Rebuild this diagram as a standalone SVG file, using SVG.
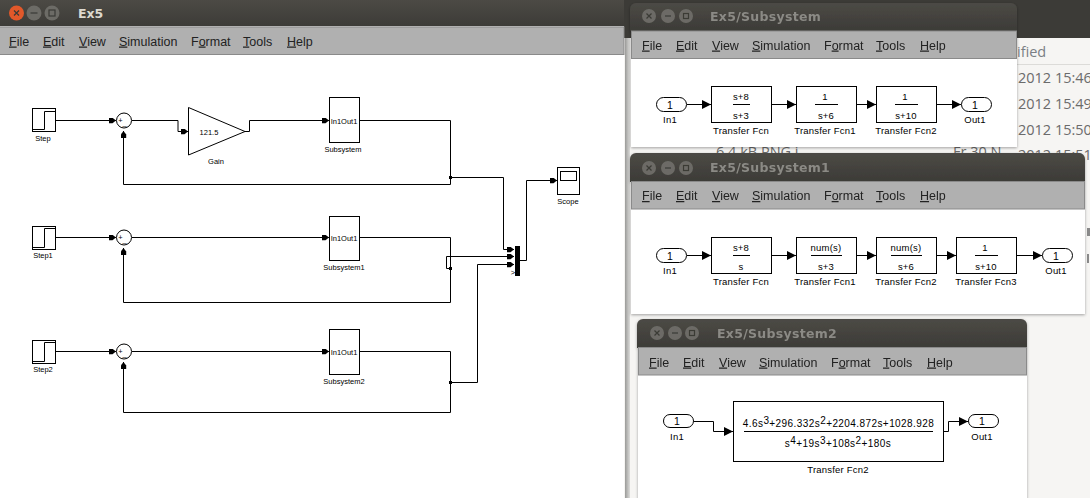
<svg xmlns="http://www.w3.org/2000/svg" width="1090" height="498" viewBox="0 0 1090 498">
<style>
text{font-family:"Liberation Sans",Arial,sans-serif;fill:#000}
.menu{font-size:12.5px;fill:#222}
.u{text-decoration:underline}
.t1{font-family:"DejaVu Sans",sans-serif;font-weight:700;font-size:12.5px;fill:#dcd8cf}
.t2{font-family:"DejaVu Sans",sans-serif;font-weight:700;font-size:12.5px;fill:#8b8a85;letter-spacing:.3px}
.bg{font-family:"Open Sans",sans-serif;font-size:14.5px;fill:#6b6b6b}
.lab{font-size:7.5px;text-anchor:middle}
.sl{font-size:9.5px;text-anchor:middle;letter-spacing:.2px}
.eq{font-size:10px;text-anchor:middle;letter-spacing:.42px}
.sup{font-size:10px}
.io{font-size:10.5px;text-anchor:middle}
.blk{fill:#fff;stroke:#000;stroke-width:1}
.wire{fill:none;stroke:#000;stroke-width:1}
.am{marker-end:url(#sa)}
.ab{marker-end:url(#la)}
.bar{stroke:#000;stroke-width:1}
.btn{fill:#6c6b66}
.tb{fill:url(#tg)}
.mb{fill:#b0b0b0;stroke:#8a8a8a}
.pn{fill:#fff}
.x{stroke:#3a3a36;stroke-width:1.2;fill:none}
</style>
<defs>
<linearGradient id="tg" x1="0" y1="0" x2="0" y2="1"><stop offset="0" stop-color="#4c4a45"/><stop offset="1" stop-color="#3c3b37"/></linearGradient>
<linearGradient id="side" x1="0" y1="0" x2="1" y2="0"><stop offset="0" stop-color="#9a9a98"/><stop offset="1" stop-color="#dcdcda"/></linearGradient>
<marker id="sa" markerUnits="userSpaceOnUse" markerWidth="8" markerHeight="7" refX="7" refY="3" orient="auto"><path d="M0 .3H3.5L7 3L3.5 5.7H0z" fill="#000"/></marker>
<marker id="la" markerUnits="userSpaceOnUse" markerWidth="10" markerHeight="10" refX="9" refY="4.5" orient="auto"><path d="M0 0L9 4.500L0 9z" fill="#000"/></marker>
<filter id="sh" x="-3%" y="-5%" width="106%" height="110%"><feDropShadow dx="0" dy="1" stdDeviation="1.500" flood-color="#000" flood-opacity=".35"/></filter>
</defs>

<g id="desktop">
<rect width="1090" height="498" fill="#f6f5f3"/>
<rect x="0" y="0" width="1090" height="38" fill="#3c3b37"/>
<rect x="625" y="38" width="5" height="460" fill="url(#side)"/>
<rect x="1017" y="64" width="73" height="1" fill="#dcdbd8"/>
<text class="bg" x="1017" y="57" style="fill:#7a7f85">ified</text>
<text class="bg" x="1018" y="83">2012 15:46</text>
<text class="bg" x="1018" y="109">2012 15:49</text>
<text class="bg" x="1018" y="135">2012 15:50</text>
<text class="bg" x="716" y="157">6.4 kB PNG i</text>
<text class="bg" x="953" y="157">Fr 30 N</text>
<text class="bg" x="1018" y="160">2012 15:51</text>
<rect x="1087" y="228" width="3" height="8" fill="#8a8a8a"/>
<rect x="1087" y="254" width="2" height="9" fill="#8a8a8a"/>
</g>

<g id="window-ex5">
<rect x="0" y="0" width="624" height="498" fill="#fff"/>
<rect class="tb" x="0" y="0" width="624" height="27"/>
<rect x="0" y="26" width="624" height="1" fill="#d8d8d8"/>
<rect class="mb" x="-1" y="27" width="625" height="27.500"/>
<circle cx="16.500" cy="13" r="7.500" fill="#e2582a"/>
<path class="x" d="M14 10.500l5 5m0-5l-5 5"/>
<circle class="btn" cx="34" cy="13" r="7.500"/>
<path class="x" d="M30.500 13h7"/>
<circle class="btn" cx="52" cy="13" r="7.500"/>
<rect class="x" x="49" y="10" width="6" height="6"/>
<text class="t1" x="78" y="18">Ex5</text>
<text class="menu" x="9" y="45.500"><tspan class="u">F</tspan>ile</text>
<text class="menu" x="43" y="45.500"><tspan class="u">E</tspan>dit</text>
<text class="menu" x="79" y="45.500"><tspan class="u">V</tspan>iew</text>
<text class="menu" x="119" y="45.500"><tspan class="u">S</tspan>imulation</text>
<text class="menu" x="191" y="45.500">F<tspan class="u">o</tspan>rmat</text>
<text class="menu" x="243" y="45.500"><tspan class="u">T</tspan>ools</text>
<text class="menu" x="287" y="45.500"><tspan class="u">H</tspan>elp</text>
</g>

<g id="connectors">
<path class="wire am" d="M55.500 120.500H116"/>
<path class="wire am" d="M132 120.500H178V131.500H188"/>
<path class="wire am" d="M245 131.500H249.500V120.500H329"/>
<path class="wire am" d="M360 120.500H450.500V184.500H123.500V131"/>
<path class="wire am" d="M450.500 177.500H503.500V249.500H514"/>
<path class="wire am" d="M520 260.500H526.500V180.500H557"/>
<path class="wire am" d="M55.500 237.500H116"/>
<path class="wire am" d="M132 237.500H329"/>
<path class="wire am" d="M360 237.500H450.500V302.500H123.500V248"/>
<path class="wire am" d="M450.500 268.500H446.500V256.500H514"/>
<path class="wire am" d="M55.500 351.500H116"/>
<path class="wire am" d="M132 351.500H329"/>
<path class="wire am" d="M360 351.500H450.500V412.500H123.500V362"/>
<path class="wire am" d="M450.500 382.500H477.500V264.500H514"/>
<rect x="449" y="176" width="3" height="3"/>
<rect x="449" y="267" width="3" height="3"/>
<rect x="449" y="381" width="3" height="3"/>
</g>

<g id="step"><rect class="blk" x="32.500" y="108.500" width="23" height="23"/><path class="wire" d="M33 129.500H44.500V111.500H55"/><text class="lab" x="43" y="141">Step</text></g>
<g id="sum"><circle class="blk" cx="124" cy="120.500" r="7.500"/><text class="lab" x="120.500" y="123">+</text><text class="lab" x="124.500" y="125">_</text></g>
<g id="gain"><path class="blk" d="M188.500 107.500L245 131.500L188.500 155z"/><text class="lab" x="209" y="135">121.5</text><text class="lab" x="216" y="164">Gain</text></g>
<g id="subsystem"><rect class="blk" x="329.500" y="97.500" width="30" height="45"/><text class="lab" x="344" y="124">In1Out1</text><text class="lab" x="343" y="152">Subsystem</text></g>
<g id="step1"><rect class="blk" x="32.500" y="226.500" width="23" height="23"/><path class="wire" d="M33 247.500H44.500V228.500H55"/><text class="lab" x="43" y="258">Step1</text></g>
<g id="sum1"><circle class="blk" cx="124" cy="237.500" r="7.500"/><text class="lab" x="120.500" y="240">+</text><text class="lab" x="124.500" y="242">_</text></g>
<g id="subsystem1"><rect class="blk" x="329.500" y="216.500" width="30" height="44"/><text class="lab" x="344" y="241">In1Out1</text><text class="lab" x="344" y="270">Subsystem1</text></g>
<g id="step2"><rect class="blk" x="32.500" y="340.500" width="23" height="23"/><path class="wire" d="M33 361.500H44.500V342.500H55"/><text class="lab" x="43" y="372">Step2</text></g>
<g id="sum2"><circle class="blk" cx="124" cy="351.500" r="7.500"/><text class="lab" x="120.500" y="354">+</text><text class="lab" x="124.500" y="356">_</text></g>
<g id="subsystem2"><rect class="blk" x="329.500" y="329.500" width="30" height="45"/><text class="lab" x="344" y="355">In1Out1</text><text class="lab" x="344" y="384">Subsystem2</text></g>
<g id="mux"><rect x="515" y="246" width="5" height="30"/><text class="lab" x="513" y="275">&gt;</text></g>
<g id="scope"><rect class="blk" x="557.500" y="167.500" width="22" height="27"/><rect class="blk" x="560.500" y="171.500" width="16" height="9"/><text class="lab" x="568" y="204">Scope</text></g>

<g id="window-subsystem" filter="url(#sh)">
<rect class="pn" x="631" y="30" width="386" height="117"/>
<path class="tb" d="M630 31V9a6 6 0 0 1 6-6H1011a6 6 0 0 1 6 6V31z"/>
<rect class="mb" x="631.500" y="31" width="385" height="27.500"/>
<circle class="btn" cx="649" cy="16" r="7"/><path class="x" d="M646.500 13.500l5 5m0-5l-5 5"/>
<circle class="btn" cx="668" cy="16" r="7"/><path class="x" d="M665 16h6"/>
<circle class="btn" cx="686" cy="16" r="7"/><rect class="x" x="683.500" y="13.500" width="5" height="5"/>
<text class="t2" x="710" y="21">Ex5/Subsystem</text>
<text class="menu" x="642" y="49.500"><tspan class="u">F</tspan>ile</text>
<text class="menu" x="676" y="49.500"><tspan class="u">E</tspan>dit</text>
<text class="menu" x="712" y="49.500"><tspan class="u">V</tspan>iew</text>
<text class="menu" x="752" y="49.500"><tspan class="u">S</tspan>imulation</text>
<text class="menu" x="824" y="49.500">F<tspan class="u">o</tspan>rmat</text>
<text class="menu" x="876" y="49.500"><tspan class="u">T</tspan>ools</text>
<text class="menu" x="920" y="49.500"><tspan class="u">H</tspan>elp</text>
</g>
<g id="sub0-connectors">
<path class="wire ab" d="M687 104.500H711"/>
<path class="wire ab" d="M772 104.500H796"/>
<path class="wire ab" d="M857 104.500H876"/>
<path class="wire ab" d="M937 104.500H961"/>
</g>
<g id="sub0-in1"><rect class="blk" x="656.500" y="97.500" width="30" height="14" rx="7"/><text class="io" x="670" y="109">1</text><text class="sl" x="670" y="123">In1</text></g>
<g id="sub0-fcn"><rect class="blk" x="711.500" y="86.500" width="60" height="36"/><path class="bar" d="M733 104.500H750"/><text class="sl" x="741" y="100">s+8</text><text class="sl" x="741" y="119">s+3</text><text class="sl" x="741" y="134">Transfer Fcn</text></g>
<g id="sub0-fcn1"><rect class="blk" x="796.500" y="86.500" width="60" height="36"/><path class="bar" d="M815 104.500H838"/><text class="sl" x="825" y="100">1</text><text class="sl" x="826" y="119">s+6</text><text class="sl" x="825" y="134">Transfer Fcn1</text></g>
<g id="sub0-fcn2"><rect class="blk" x="876.500" y="86.500" width="60" height="36"/><path class="bar" d="M895 104.500H918"/><text class="sl" x="905" y="100">1</text><text class="sl" x="906" y="119">s+10</text><text class="sl" x="906" y="134">Transfer Fcn2</text></g>
<g id="sub0-out1"><rect class="blk" x="961.500" y="97.500" width="30" height="14" rx="7"/><text class="io" x="975" y="109">1</text><text class="sl" x="975" y="123">Out1</text></g>

<g id="window-subsystem1" filter="url(#sh)">
<rect class="pn" x="631" y="181" width="454" height="133"/>
<path class="tb" d="M630 182V159a6 6 0 0 1 6-6H1079a6 6 0 0 1 6 6V182z"/>
<rect class="mb" x="631.500" y="181.500" width="453" height="27.500"/>
<circle class="btn" cx="649" cy="168" r="7"/><path class="x" d="M646.500 165.500l5 5m0-5l-5 5"/>
<circle class="btn" cx="668" cy="168" r="7"/><path class="x" d="M665 168h6"/>
<circle class="btn" cx="686" cy="168" r="7"/><rect class="x" x="683.500" y="165.500" width="5" height="5"/>
<text class="t2" x="710" y="172">Ex5/Subsystem1</text>
<text class="menu" x="642" y="200"><tspan class="u">F</tspan>ile</text>
<text class="menu" x="676" y="200"><tspan class="u">E</tspan>dit</text>
<text class="menu" x="712" y="200"><tspan class="u">V</tspan>iew</text>
<text class="menu" x="752" y="200"><tspan class="u">S</tspan>imulation</text>
<text class="menu" x="824" y="200">F<tspan class="u">o</tspan>rmat</text>
<text class="menu" x="876" y="200"><tspan class="u">T</tspan>ools</text>
<text class="menu" x="920" y="200"><tspan class="u">H</tspan>elp</text>
</g>
<g id="sub1-connectors">
<path class="wire ab" d="M687 255.500H711"/>
<path class="wire ab" d="M772 255.500H796"/>
<path class="wire ab" d="M857 255.500H876"/>
<path class="wire ab" d="M937 255.500H956"/>
<path class="wire ab" d="M1017 255.500H1042"/>
</g>
<g id="sub1-in1"><rect class="blk" x="656.500" y="248.500" width="30" height="14" rx="7"/><text class="io" x="670" y="260">1</text><text class="sl" x="670" y="274">In1</text></g>
<g id="sub1-fcn"><rect class="blk" x="711.500" y="237.500" width="60" height="36"/><path class="bar" d="M733 255.500H750"/><text class="sl" x="741" y="251">s+8</text><text class="sl" x="741" y="270">s</text><text class="sl" x="741" y="285">Transfer Fcn</text></g>
<g id="sub1-fcn1"><rect class="blk" x="796.500" y="237.500" width="60" height="36"/><path class="bar" d="M811 255.500H842"/><text class="sl" x="826" y="251">num(s)</text><text class="sl" x="826" y="270">s+3</text><text class="sl" x="825" y="285">Transfer Fcn1</text></g>
<g id="sub1-fcn2"><rect class="blk" x="876.500" y="237.500" width="60" height="36"/><path class="bar" d="M891 255.500H922"/><text class="sl" x="906" y="251">num(s)</text><text class="sl" x="906" y="270">s+6</text><text class="sl" x="906" y="285">Transfer Fcn2</text></g>
<g id="sub1-fcn3"><rect class="blk" x="956.500" y="237.500" width="60" height="36"/><path class="bar" d="M975 255.500H998"/><text class="sl" x="985" y="251">1</text><text class="sl" x="986" y="270">s+10</text><text class="sl" x="986" y="285">Transfer Fcn3</text></g>
<g id="sub1-out1"><rect class="blk" x="1042.500" y="248.500" width="30" height="14" rx="7"/><text class="io" x="1056" y="260">1</text><text class="sl" x="1056" y="274">Out1</text></g>

<g id="window-subsystem2" filter="url(#sh)">
<rect class="pn" x="638" y="347" width="389" height="160"/>
<path class="tb" d="M637 348V325a6 6 0 0 1 6-6H1021a6 6 0 0 1 6 6V348z"/>
<rect class="mb" x="638.500" y="347.500" width="388" height="27.500"/>
<circle class="btn" cx="657" cy="333" r="7"/><path class="x" d="M654.500 330.500l5 5m0-5l-5 5"/>
<circle class="btn" cx="675" cy="333" r="7"/><path class="x" d="M672 333h6"/>
<circle class="btn" cx="692" cy="333" r="7"/><rect class="x" x="689.500" y="330.500" width="5" height="5"/>
<text class="t2" x="717" y="338">Ex5/Subsystem2</text>
<text class="menu" x="649" y="366.500"><tspan class="u">F</tspan>ile</text>
<text class="menu" x="683" y="366.500"><tspan class="u">E</tspan>dit</text>
<text class="menu" x="719" y="366.500"><tspan class="u">V</tspan>iew</text>
<text class="menu" x="759" y="366.500"><tspan class="u">S</tspan>imulation</text>
<text class="menu" x="831" y="366.500">F<tspan class="u">o</tspan>rmat</text>
<text class="menu" x="883" y="366.500"><tspan class="u">T</tspan>ools</text>
<text class="menu" x="927" y="366.500"><tspan class="u">H</tspan>elp</text>
</g>
<g id="sub2-connectors">
<path class="wire ab" d="M694 421.500H713.500V431.500H733"/>
<path class="wire ab" d="M943 431.500H948.500V421.500H968"/>
</g>
<g id="sub2-in1"><rect class="blk" x="663.500" y="414.500" width="30" height="13" rx="6.500"/><text class="io" x="677" y="425">1</text><text class="sl" x="677" y="440">In1</text></g>
<g id="sub2-fcn"><rect class="blk" x="733.500" y="401.500" width="210" height="60"/><path class="bar" d="M744 431.500H933"/>
<text class="eq" x="838.500" y="427">4.6s<tspan class="sup" dy="-3">3</tspan><tspan dy="3">+296.332s</tspan><tspan class="sup" dy="-3">2</tspan><tspan dy="3">+2204.872s+1028.928</tspan></text>
<text class="eq" x="838" y="447">s<tspan class="sup" dy="-3">4</tspan><tspan dy="3">+19s</tspan><tspan class="sup" dy="-3">3</tspan><tspan dy="3">+108s</tspan><tspan class="sup" dy="-3">2</tspan><tspan dy="3">+180s</tspan></text>
<text class="sl" x="838" y="473">Transfer Fcn2</text></g>
<g id="sub2-out1"><rect class="blk" x="968.500" y="414.500" width="30" height="13" rx="6.500"/><text class="io" x="982" y="425">1</text><text class="sl" x="982" y="440">Out1</text></g>
</svg>
